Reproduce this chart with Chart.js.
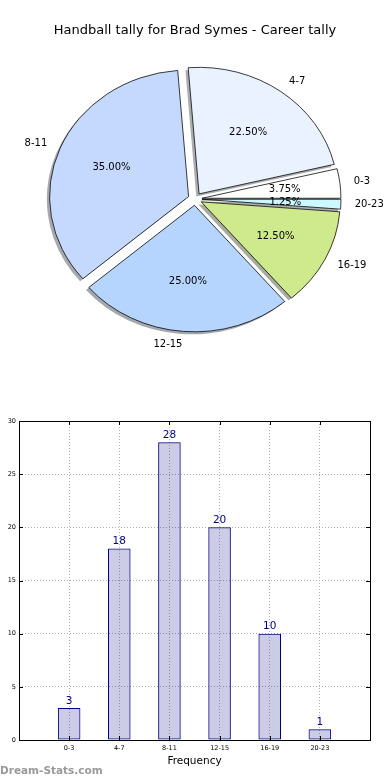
<!DOCTYPE html>
<html>
<head>
<meta charset="utf-8">
<script src="https://cdn.jsdelivr.net/npm/chart.js@4.4.1/dist/chart.umd.min.js"></script>
<style>
  html, body { margin: 0; padding: 0; background: #fff; }
  #page { position: relative; width: 390px; height: 780px; overflow: hidden; }
  #pieWrap { position: absolute; left: 0; top: 0; }
  #barWrap { position: absolute; left: 0; top: 400px; }
  #brand { position: absolute; left: 0; top: 764px; font: bold 10.5px 'DejaVu Sans', sans-serif; color: #9a9a9a; }
</style>
</head>
<body>
<div id="page">
  <div id="pieWrap"><canvas id="pieChart" width="390" height="400"></canvas></div>
  <div id="barWrap"><canvas id="barChart" width="390" height="380"></canvas></div>
  <div id="brand">Dream-Stats.com</div>
</div>
<script>
// chart data
const categories = ['0-3', '4-7', '8-11', '12-15', '16-19', '20-23'];
const counts = [3, 18, 28, 20, 10, 1];
const sliceColors = ['#ffffff', '#eaf2ff', '#c5d9ff', '#b5d5ff', '#cfea8c', '#ccf8ff'];
const yTicks = [0, 5, 10, 15, 20, 25, 30];

const FONT = "'DejaVu Sans', sans-serif";
const total = counts.reduce( ( a, b ) => a + b, 0 );

// matplotlib style pie: drawn counter-clockwise from 3 o'clock, so feed it reversed
const pieLabels = categories.slice().reverse();
const pieValues = counts.slice().reverse();
const pieColors = sliceColors.slice().reverse();

const SQUASH = 126.8 / 139.3; // the reference pie is an ellipse
const EXPLODE = 0.05;
const SHADOW = 0.02;

function shadowColor( hex ) {
	const n = parseInt( hex.slice( 1 ), 16 );
	const r = Math.round( ( ( n >> 16 ) & 255 ) * 0.3 );
	const g = Math.round( ( ( n >> 8 ) & 255 ) * 0.3 );
	const b = Math.round( ( n & 255 ) * 0.3 );
	return 'rgba(' + r + ',' + g + ',' + b + ',0.45)';
}

const explodedPie = {
	id: 'explodedPie',
	beforeDatasetDraw( chart, args ) {
		const ctx = chart.ctx;
		const arcs = args.meta.data;
		const cx = arcs[0].x;
		const cy = arcs[0].y;

		ctx.save();
		ctx.translate( cx, cy );
		ctx.scale( 1, SQUASH );
		ctx.translate( -cx, -cy );

		// shadows go below every wedge
		arcs.forEach( function ( arc ) {
			const r = arc.outerRadius;
			const mid = ( arc.startAngle + arc.endAngle ) / 2;
			const x = cx + Math.cos( mid ) * EXPLODE * r - SHADOW * r;
			const y = cy + Math.sin( mid ) * EXPLODE * r + SHADOW * r;
			ctx.beginPath();
			ctx.moveTo( x, y );
			ctx.arc( x, y, r, arc.startAngle, arc.endAngle );
			ctx.closePath();
			ctx.fillStyle = shadowColor( arc.options.backgroundColor );
			ctx.fill();
		} );

		arcs.forEach( function ( arc ) {
			const r = arc.outerRadius;
			const mid = ( arc.startAngle + arc.endAngle ) / 2;
			ctx.save();
			ctx.translate( Math.cos( mid ) * EXPLODE * r, Math.sin( mid ) * EXPLODE * r );
			arc.draw( ctx );
			ctx.restore();
		} );

		ctx.restore();
		return false;
	},
	afterDatasetsDraw( chart ) {
		const ctx = chart.ctx;
		const arcs = chart.getDatasetMeta( 0 ).data;

		ctx.save();
		ctx.font = '10px ' + FONT;
		ctx.fillStyle = '#000';
		ctx.textBaseline = 'middle';

		arcs.forEach( function ( arc, i ) {
			const r = arc.outerRadius;
			const mid = ( arc.startAngle + arc.endAngle ) / 2;
			const cos = Math.cos( mid );
			const sin = Math.sin( mid );

			// outer label
			const lx = arc.x + ( 1.1 + EXPLODE ) * r * cos;
			const ly = arc.y + ( 1.1 + EXPLODE ) * r * sin * SQUASH;
			ctx.textAlign = cos > 0 ? 'left' : 'right';
			ctx.fillText( pieLabels[i], lx, ly );

			// percentage
			const px = arc.x + ( 0.6 + EXPLODE ) * r * cos;
			const py = arc.y + ( 0.6 + EXPLODE ) * r * sin * SQUASH;
			ctx.textAlign = 'center';
			ctx.fillText( ( pieValues[i] / total * 100 ).toFixed( 2 ) + '%', px, py );
		} );

		ctx.restore();
	}
};

new Chart( document.getElementById( 'pieChart' ), {
	type: 'pie',
	data: {
		labels: pieLabels,
		datasets: [{
			data: pieValues,
			backgroundColor: pieColors,
			borderColor: '#000',
			borderWidth: 0.8,
			radius: 139
		}]
	},
	options: {
		responsive: false,
		animation: false,
		rotation: 90,
		radius: 139,
		layout: { padding: { top: 0, bottom: 50, left: 0, right: 0 } },
		plugins: {
			legend: { display: false },
			tooltip: { enabled: false },
			title: {
				display: true,
				text: 'Handball tally for Brad Symes - Career tally',
				color: '#000',
				font: { size: 13, weight: 'normal', family: FONT, lineHeight: 1.2 },
				padding: { top: 23, bottom: 9.4 }
			}
		}
	},
	plugins: [explodedPie]
} );

// bar chart: empty slots at both ends give the -1 .. 6 x range
const barLabels = [''].concat( categories, [''] );
const barValues = [null].concat( counts, [null] );

const barExtras = {
	id: 'barExtras',
	afterDatasetsDraw( chart ) {
		const ctx = chart.ctx;
		const bars = chart.getDatasetMeta( 0 ).data;

		ctx.save();
		ctx.font = '10.5px ' + FONT;
		ctx.fillStyle = '#00008b';
		ctx.textAlign = 'center';
		ctx.textBaseline = 'bottom';
		bars.forEach( function ( bar, i ) {
			if ( barValues[i] === null )
				return;
			ctx.fillText( String( barValues[i] ), bar.x, bar.y - 2 );
		} );
		ctx.restore();
	},
	afterDraw( chart ) {
		const ctx = chart.ctx;
		const area = chart.chartArea;
		const xs = chart.scales.x;
		const ys = chart.scales.y;

		ctx.save();
		ctx.strokeStyle = '#000';
		ctx.lineWidth = 1;
		ctx.strokeRect( Math.round( area.left ) + 0.5, Math.round( area.top ) + 0.5,
			Math.round( area.right - area.left ), Math.round( area.bottom - area.top ) );

		// inward tick marks on all four sides
		ctx.beginPath();
		yTicks.forEach( function ( v ) {
			const y = Math.round( ys.getPixelForValue( v ) ) + 0.5;
			ctx.moveTo( area.left, y );
			ctx.lineTo( area.left + 4, y );
			ctx.moveTo( area.right, y );
			ctx.lineTo( area.right - 4, y );
		} );
		categories.forEach( function ( c, i ) {
			const x = Math.round( xs.getPixelForValue( i + 1 ) ) + 0.5;
			ctx.moveTo( x, area.bottom );
			ctx.lineTo( x, area.bottom - 4 );
			ctx.moveTo( x, area.top );
			ctx.lineTo( x, area.top + 4 );
		} );
		ctx.stroke();

		// y axis title, mostly clipped at the canvas edge like the reference
		ctx.translate( -2.5, ( area.top + area.bottom ) / 2 );
		ctx.rotate( -Math.PI / 2 );
		ctx.font = '10.5px ' + FONT;
		ctx.fillStyle = '#000';
		ctx.textAlign = 'center';
		ctx.textBaseline = 'middle';
		ctx.fillText( 'Score Count', 0, 0 );
		ctx.restore();
	}
};

new Chart( document.getElementById( 'barChart' ), {
	type: 'bar',
	data: {
		labels: barLabels,
		datasets: [{
			data: barValues,
			backgroundColor: 'rgba(0,0,128,0.2)',
			borderColor: '#000080',
			borderWidth: 1,
			borderSkipped: false,
			categoryPercentage: 0.45,
			barPercentage: 1
		}]
	},
	options: {
		responsive: false,
		animation: false,
		layout: { padding: { top: 21, right: 20, left: 0, bottom: 0 } },
		plugins: {
			legend: { display: false },
			tooltip: { enabled: false }
		},
		scales: {
			x: {
				offset: false,
				grid: { offset: false, color: '#b0b0b0', lineWidth: 1, drawTicks: false },
				border: { display: false, dash: [1, 2] },
				ticks: {
					autoSkip: false,
					maxRotation: 0,
					padding: 4,
					color: '#000',
					font: { size: 6.5, family: FONT }
				},
				title: {
					display: true,
					text: 'Frequency',
					color: '#000',
					font: { size: 10.5, family: FONT },
					padding: { top: 0, bottom: 12 }
				},
				afterFit( scale ) {
					scale.height = 40;
				}
			},
			y: {
				min: 0,
				max: 30,
				grid: { color: '#b0b0b0', lineWidth: 1, drawTicks: false },
				border: { display: false, dash: [1, 2] },
				ticks: {
					padding: 3,
					color: '#000',
					font: { size: 6.5, family: FONT }
				},
				afterBuildTicks( scale ) {
					scale.ticks = yTicks.map( v => ( { value: v } ) );
				},
				afterFit( scale ) {
					scale.width = 19;
				}
			}
		}
	},
	plugins: [barExtras]
} );
</script>
</body>
</html>
